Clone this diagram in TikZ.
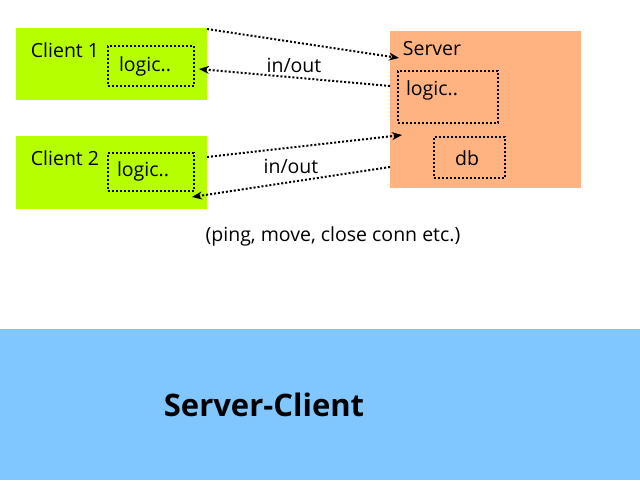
\documentclass[tikz,border=0pt]{standalone}
\usepackage{fontspec}
\setmainfont{Open Sans}
\usetikzlibrary{arrows.meta}
\definecolor{clientgreen}{HTML}{B5FF00}
\definecolor{serverorange}{HTML}{FFB380}
\definecolor{bandblue}{HTML}{80C6FF}
\tikzset{
  box/.style={draw=none, inner sep=0pt, anchor=north west},
  inbox/.style={draw=black, dash pattern=on 2pt off 2pt, line width=2pt, inner sep=0pt, anchor=north west},
  lbl/.style={inner sep=0pt, font=\fontsize{19.5}{22}\selectfont},
  conn/.style={dash pattern=on 2pt off 2pt, line width=2pt, -{Stealth[length=10pt,width=8pt]}}
}
\begin{document}
\begin{tikzpicture}[x=1pt,y=-1pt]
\useasboundingbox (0,0) rectangle (640,480);
\fill[white] (0,0) rectangle (640,480);
% bottom band
\node[box, fill=bandblue, minimum width=640pt, minimum height=151pt] (band) at (0,329) {};
\node[inner sep=0pt, font=\fontsize{31}{34}\selectfont\bfseries] (title) at (264,405) {Server-Client};
% clients
\node[box, fill=clientgreen, minimum width=191pt, minimum height=72pt] (c1) at (16,28) {};
\node[box, fill=clientgreen, minimum width=191pt, minimum height=73pt] (c2) at (16,136) {};
\node[inbox, minimum width=86pt, minimum height=40pt] (c1l) at (107,45) {};
\node[inbox, minimum width=86pt, minimum height=38pt] (c2l) at (107,152) {};
\node[lbl] (c1t) at (65,50) {Client 1};
\node[lbl] (c2t) at (65,158) {Client 2};
\node[lbl] (c1lt) at (145,66) {logic..};
\node[lbl] (c2lt) at (143,171) {logic..};
% server
\node[box, fill=serverorange, minimum width=191pt, minimum height=157pt] (srv) at (390,31) {};
\node[inbox, minimum width=100pt, minimum height=52pt] (srvl) at (397,70) {};
\node[inbox, minimum width=71pt, minimum height=41pt] (db) at (433,136) {};
\node[lbl] (srvt) at (432,49) {Server};
\node[lbl] (srvlt) at (432,90) {logic..};
\node[lbl] (dbt) at (467,158) {db};
% labels
\node[lbl] (io1) at (294,65) {in/out};
\node[lbl] (io2) at (291,166) {in/out};
\node[lbl] (note) at (333,236) {(ping, move, close conn etc.)};
% connector ends
\coordinate (a1s) at (207,29);
\coordinate (a1e) at (399,58);
\coordinate (a2s) at (390,86);
\coordinate (a2e) at (199,69);
\coordinate (a3s) at (207,157);
\coordinate (a3e) at (402,135);
\coordinate (a4s) at (390,167);
\coordinate (a4e) at (192,197);
\draw[conn] (a1s) -- (a1e);
\draw[conn] (a2s) -- (a2e);
\draw[conn] (a3s) -- (a3e);
\draw[conn] (a4s) -- (a4e);
\end{tikzpicture}
\end{document}
